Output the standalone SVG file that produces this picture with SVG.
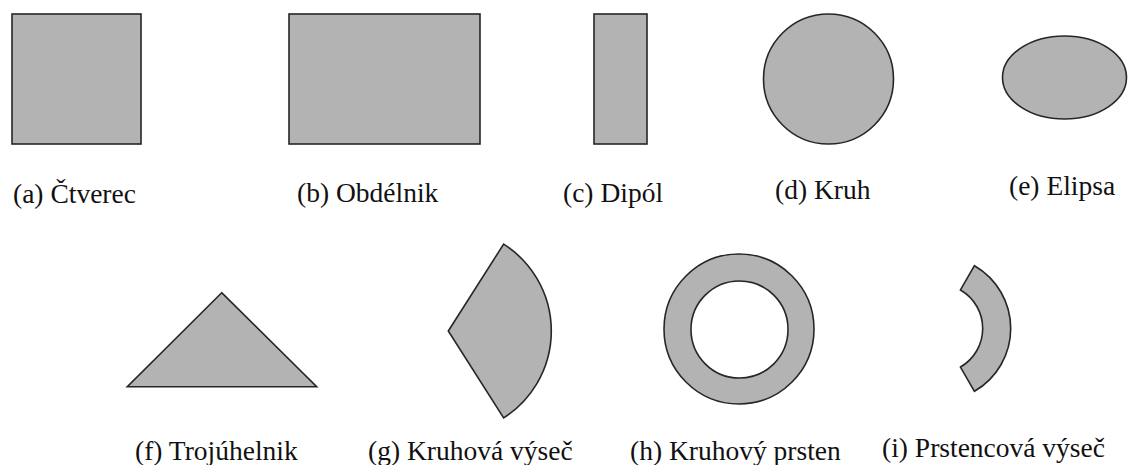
<svg xmlns="http://www.w3.org/2000/svg" width="1129" height="465" viewBox="0 0 1129 465">
  <style>
    .shape { fill: #b3b3b3; stroke: #262626; stroke-width: 1.6; stroke-linejoin: miter; }
    .label { font-family: 'Liberation Serif', 'Times New Roman', Tinos, 'Noto Serif', 'DejaVu Serif', FreeSerif, serif; font-size: 27.5px; fill: #111; }
  </style>
  <rect x="0" y="0" width="1129" height="465" fill="#ffffff"/>

  <!-- Row 1 -->
  <g id="ctverec">
    <rect class="shape" x="12" y="14" width="129" height="130"/>
    <text class="label" x="13" y="203">(a) Čtverec</text>
  </g>
  <g id="obdelnik">
    <rect class="shape" x="289" y="14" width="191" height="130"/>
    <text class="label" x="297" y="202">(b) Obdélnik</text>
  </g>
  <g id="dipol">
    <rect class="shape" x="594" y="14" width="53" height="130"/>
    <text class="label" x="563" y="202">(c) Dipól</text>
  </g>
  <g id="kruh">
    <circle class="shape" cx="828.5" cy="79" r="65"/>
    <text class="label" x="775" y="199">(d) Kruh</text>
  </g>
  <g id="elipsa">
    <ellipse class="shape" cx="1064.5" cy="77.5" rx="62" ry="41.5"/>
    <text class="label" x="1009" y="195">(e) Elipsa</text>
  </g>

  <!-- Row 2 -->
  <g id="trojuhelnik">
    <polygon class="shape" points="221.7,292.7 127.3,386.7 316.7,386.7"/>
    <text class="label" x="135" y="460">(f) Trojúhelnik</text>
  </g>
  <g id="kruhova-vysec">
    <path class="shape" d="M 448.3 331 L 503.64 244.13 A 103 103 0 0 1 503.64 417.87 Z"/>
    <text class="label" x="368" y="460">(g) Kruhová výseč</text>
  </g>
  <g id="kruhovy-prsten">
    <path class="shape" fill-rule="evenodd" d="M 664 329 A 75 75 0 1 0 814 329 A 75 75 0 1 0 664 329 Z M 691 329.5 A 48.5 48.5 0 1 0 788 329.5 A 48.5 48.5 0 1 0 691 329.5 Z"/>
    <text class="label" x="630" y="460">(h) Kruhový prsten</text>
  </g>
  <g id="prstencova-vysec">
    <path class="shape" d="M 974.45 265.71 A 72.5 72.5 0 0 1 974.45 391.29 L 960.45 367.04 A 44.5 44.5 0 0 0 960.45 289.96 Z"/>
    <text class="label" x="882" y="457">(i) Prstencová výseč</text>
  </g>
</svg>
